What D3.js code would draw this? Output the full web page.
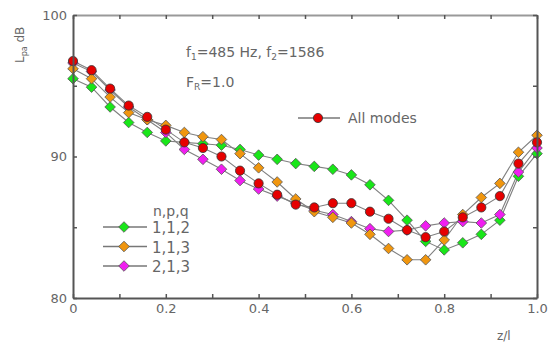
<!DOCTYPE html>
<html lang="en">
<head>
<meta charset="utf-8">
<script src="https://d3js.org/d3.v7.min.js"></script>
<style>
  body { margin: 0; background: #fff; }
  svg text { font-family: "DejaVu Sans", sans-serif; fill: #666; }
</style>
</head>
<body>
<svg id="chart" width="551" height="347"></svg>
<script>
// z/l positions, 0 to 1 in steps of 0.04
const zPos = [0, 0.04, 0.08, 0.12, 0.16, 0.20, 0.24, 0.28, 0.32, 0.36, 0.40, 0.44, 0.48,
              0.52, 0.56, 0.60, 0.64, 0.68, 0.72, 0.76, 0.80, 0.84, 0.88, 0.92, 0.96, 1.00];

const mode112 = [95.5, 94.9, 93.5, 92.4, 91.7, 91.1, 91.0, 90.9, 90.8, 90.5, 90.1, 89.8, 89.5,
                 89.3, 89.1, 88.7, 88.0, 86.9, 85.5, 84.0, 83.4, 83.9, 84.5, 85.5, 88.6, 90.2];
const mode113 = [96.2, 95.5, 94.2, 93.1, 92.6, 92.2, 91.7, 91.4, 91.2, 90.2, 89.2, 88.2, 87.0,
                 86.1, 85.7, 85.3, 84.5, 83.5, 82.7, 82.7, 84.1, 85.9, 87.1, 88.1, 90.3, 91.5];
const mode213 = [96.6, 96.0, 94.7, 93.5, 92.6, 91.7, 90.5, 89.8, 89.1, 88.3, 87.7, 87.2, 86.7,
                 86.2, 85.9, 85.4, 84.9, 84.7, 84.8, 85.1, 85.3, 85.4, 85.3, 85.9, 88.9, 90.6];
const allModes = [96.75, 96.1, 94.8, 93.6, 92.8, 91.9, 91.0, 90.6, 90.0, 89.0, 88.1, 87.3, 86.6,
                  86.4, 86.7, 86.7, 86.1, 85.6, 84.8, 84.3, 84.7, 85.7, 86.4, 87.2, 89.5, 91.0];

const xTicks = [0, 0.2, 0.4, 0.6, 0.8, 1.0];
const yTicks = [80, 90, 100];

const svg = d3.select("#chart");
const mLeft = 73, mRight = 537, mTop = 15, mBottom = 298;

const x = d3.scaleLinear().domain([0, 1]).range([mLeft, mRight]);
const y = d3.scaleLinear().domain([80, 100]).range([mBottom, mTop]);

const series = [
  {name: "1,1,2", values: mode112, color: "#19e619", shape: "diamond"},
  {name: "2,1,3", values: mode213, color: "#f01ef0", shape: "diamond"},
  {name: "1,1,3", values: mode113, color: "#f0960f", shape: "diamond"},
  {name: "All modes", values: allModes, color: "#e60000", shape: "circle"}
];

function drawMarker(g, shape, color) {
  if (shape === "circle") {
    g.append("circle").attr("r", 4.6)
      .attr("fill", color).attr("stroke", "#333").attr("stroke-width", 0.8);
  } else {
    g.append("path").attr("d", "M0,-5.3L5.3,0L0,5.3L-5.3,0Z")
      .attr("fill", color).attr("stroke", "#555").attr("stroke-width", 0.8);
  }
}

// lines first, then markers
const line = d3.line().x((d, i) => x(zPos[i])).y(d => y(d));
for (const s of series) {
  svg.append("path").datum(s.values)
    .attr("d", line).attr("fill", "none")
    .attr("stroke", "#808080").attr("stroke-width", 1.1);
}
for (const s of series) {
  s.values.forEach((v, i) => {
    const g = svg.append("g").attr("transform", `translate(${x(zPos[i])},${y(v)})`);
    drawMarker(g, s.shape, s.color);
  });
}

// axes
const axisColor = "#555";
const minorX = d3.range(0, 11).map(i => i / 10);
const xAxisB = svg.append("g").attr("transform", `translate(0,${mBottom})`)
  .call(d3.axisBottom(x).tickValues(minorX).tickSizeInner(-4).tickSizeOuter(0)
    .tickFormat(d => xTicks.some(t => Math.abs(t - d) < 1e-6) ? (d === 0 ? "0" : d3.format(".1f")(d)) : ""));
const xAxisT = svg.append("g").attr("transform", `translate(0,${mTop})`)
  .call(d3.axisTop(x).tickValues(minorX).tickSizeInner(-4).tickSizeOuter(0).tickFormat(""));
const yAxisL = svg.append("g").attr("transform", `translate(${mLeft},0)`)
  .call(d3.axisLeft(y).tickValues([80, 85, 90, 95, 100]).tickSizeInner(-4).tickSizeOuter(0)
    .tickFormat(d => yTicks.includes(d) ? d : ""));
const yAxisR = svg.append("g").attr("transform", `translate(${mRight},0)`)
  .call(d3.axisRight(y).tickValues([80, 85, 90, 95, 100]).tickSizeInner(-4).tickSizeOuter(0).tickFormat(""));

for (const a of [xAxisB, xAxisT, yAxisL, yAxisR]) {
  a.select(".domain").attr("stroke", axisColor).attr("stroke-width", 2);
  a.selectAll(".tick line").attr("stroke", axisColor).attr("stroke-width", 1.5);
  a.selectAll(".tick text").attr("fill", "#666").style("font-size", "13px")
    .style("font-family", "DejaVu Sans, sans-serif");
}
xAxisT.select(".domain").attr("stroke", "#999");
xAxisB.selectAll(".tick text").attr("dy", "0.9em");
yAxisL.selectAll(".tick text").attr("x", -6);

// axis titles
svg.append("text").attr("x", 497).attr("y", 340).style("font-size", "12px").text("z/l");
const yl = svg.append("text").attr("transform", "translate(24,63) rotate(-90)").style("font-size", "12px");
yl.append("tspan").text("L");
yl.append("tspan").attr("dy", 3).style("font-size", "8px").text("pa");
yl.append("tspan").attr("dy", -3).text(" dB");

// annotation
const t1 = svg.append("text").attr("x", 186).attr("y", 57).style("font-size", "14px");
t1.append("tspan").text("f");
t1.append("tspan").attr("dy", 3).style("font-size", "9px").text("1");
t1.append("tspan").attr("dy", -3).text("=485 Hz, f");
t1.append("tspan").attr("dy", 3).style("font-size", "9px").text("2");
t1.append("tspan").attr("dy", -3).text("=1586");
const t2 = svg.append("text").attr("x", 186).attr("y", 87).style("font-size", "14px");
t2.append("tspan").text("F");
t2.append("tspan").attr("dy", 3).style("font-size", "9px").text("R");
t2.append("tspan").attr("dy", -3).text("=1.0");

// legend: All modes
const la = svg.append("g").attr("transform", "translate(298,118)");
la.append("line").attr("x1", 0).attr("x2", 42).attr("stroke", "#777").attr("stroke-width", 1.5);
drawMarker(la.append("g").attr("transform", "translate(20,0)"), "circle", series[3].color);
la.append("text").attr("x", 50).attr("y", 5).style("font-size", "14px").text("All modes");

// legend: n,p,q
svg.append("text").attr("x", 153).attr("y", 216).style("font-size", "14px").text("n,p,q");
const legendItems = [series[0], series[2], series[1]];
legendItems.forEach((s, i) => {
  const g = svg.append("g").attr("transform", `translate(103,${227 + i * 19.5})`);
  g.append("line").attr("x1", 0).attr("x2", 44).attr("stroke", "#777").attr("stroke-width", 1.5);
  drawMarker(g.append("g").attr("transform", "translate(21,0)"), s.shape, s.color);
  g.append("text").attr("x", 49).attr("y", 6).style("font-size", "15px").text(s.name);
});
</script>
</body>
</html>
